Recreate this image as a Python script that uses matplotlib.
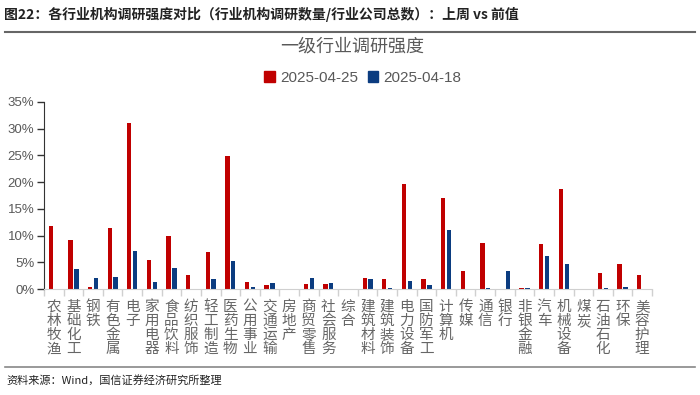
import numpy as np
import matplotlib
matplotlib.use("Agg")
import matplotlib.pyplot as plt
from matplotlib.lines import Line2D
from matplotlib.ticker import PercentFormatter, FixedLocator

plt.rcParams['font.family'] = ['Noto Sans CJK SC', 'DejaVu Sans']

industries = ["农林牧渔", "基础化工", "钢铁", "有色金属", "电子", "家用电器", "食品饮料",
              "纺织服饰", "轻工制造", "医药生物", "公用事业", "交通运输", "房地产", "商贸零售",
              "社会服务", "综合", "建筑材料", "建筑装饰", "电力设备", "国防军工", "计算机",
              "传媒", "通信", "银行", "非银金融", "汽车", "机械设备", "煤炭", "石油石化",
              "环保", "美容护理"]
# percent values
week_0425 = [11.7, 9.1, 0.4, 11.5, 31.0, 5.4, 10.0, 2.6, 6.9, 24.9, 1.4, 0.75, 0.0, 0.9,
             0.9, 0.0, 2.0, 1.9, 19.6, 1.9, 17.1, 3.4, 8.7, 0.0, 0.2, 8.5, 18.8, 0.0, 3.0,
             4.7, 2.7]
week_0418 = [0.0, 3.7, 2.1, 2.2, 7.1, 1.4, 3.9, 0.0, 1.9, 5.3, 0.35, 1.2, 0.0, 2.0,
             1.05, 0.0, 1.8, 0.2, 1.55, 0.75, 11.0, 0.0, 0.2, 3.4, 0.2, 6.1, 4.7, 0.0, 0.15,
             0.45, 0.0]
labels = ["2025-04-25", "2025-04-18"]

red = '#C00000'
blue = '#0B3C80'
grey = '#595959'

fig = plt.figure(figsize=(7, 3.95), dpi=100)
ax = fig.add_axes([44/700, 1-289/395, 608/700, 187/395])

x = np.arange(len(industries))
w = 0.22
ax.bar(x - 0.15, np.array(week_0425)/100, w, color=red)
ax.bar(x + 0.15, np.array(week_0418)/100, w, color=blue)

ax.set_xlim(-0.5, len(industries) - 0.5)
ax.set_ylim(0, 0.35)
ax.set_yticks(np.arange(0, 0.351, 0.05))
ax.yaxis.set_major_formatter(PercentFormatter(1.0, decimals=0))
for t in ax.get_yticklabels():
    t.set_family(['Liberation Sans', 'DejaVu Sans'])
ax.tick_params(axis='y', labelsize=9.5, labelcolor=grey, length=5, width=1, color='#333333', pad=2)

ax.set_xticks(x)
ax.set_xticklabels(['\n'.join(s) for s in industries], fontsize=10.5, color='#666666', linespacing=1.0, va='top')
ax.tick_params(axis='x', which='major', length=0, pad=8)
ax.xaxis.set_minor_locator(FixedLocator(np.arange(-0.5, len(industries), 1.0)))
ax.tick_params(axis='x', which='minor', length=5, color='#d0d0d0', width=1)

for s in ['top', 'right']:
    ax.spines[s].set_visible(False)
ax.spines['left'].set_color('#333333')
ax.spines['bottom'].set_color('#d0d0d0')

fig.text(4/700, 1-14/395, "图22：各行业机构调研强度对比（行业机构调研数量/行业公司总数）：上周 vs 前值",
         fontsize=10, fontweight='bold', color='#222222', va='center', ha='left')
fig.add_artist(Line2D([5/700, 695/700], [1-32/395, 1-32/395], color='#666666', lw=1.5))
fig.text(352/700, 1-47/395, "一级行业调研强度", fontsize=13, color=grey, ha='center', va='center')

handles = [plt.Rectangle((0, 0), 1, 1, color=red), plt.Rectangle((0, 0), 1, 1, color=blue)]
leg = fig.legend(handles, labels, loc='center', bbox_to_anchor=(363/700, 1-78/395), ncol=2,
                 frameon=False, handlelength=0.7, handleheight=0.7, handletextpad=0.35,
                 columnspacing=0.6, prop={'family': ['Liberation Sans', 'DejaVu Sans'], 'size': 11})
for t in leg.get_texts():
    t.set_color(grey)

fig.add_artist(Line2D([5/700, 695/700], [1-367/395, 1-367/395], color='#888888', lw=1.2))
fig.text(6/700, 1-380/395, "资料来源：Wind，国信证券经济研究所整理", fontsize=8, color='#222222', va='center', ha='left')

fig.savefig("out.png", dpi=100)
